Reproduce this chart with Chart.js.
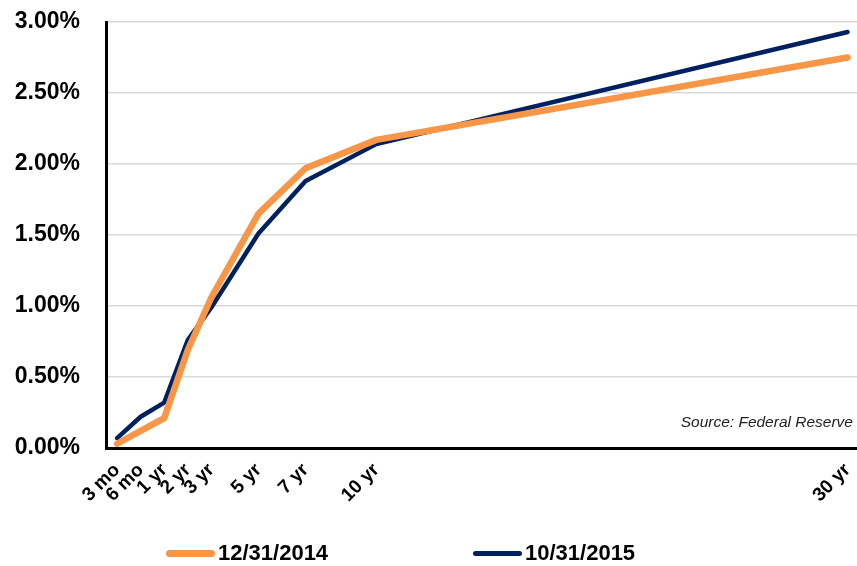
<!DOCTYPE html>
<html lang="en">
<head>
    <meta charset="UTF-8">
    <title>Treasury Yield Curve</title>
    <script src="https://cdn.jsdelivr.net/npm/chart.js"></script>
    <style>
        body { margin: 0; background: #fff; }
        .wrap { position: relative; width: 857px; height: 566px; font-family: "Liberation Sans", Arial, sans-serif; }
        .source {
            position: absolute; right: 4px; top: 413px;
            font-style: italic; font-size: 15.5px; color: #222;
        }
        .legend { position: absolute; top: 540px; left: 0; width: 857px; height: 26px; }
        .legend-item { position: absolute; top: 0; display: flex; align-items: center; height: 26px;
            font-weight: bold; font-size: 22px; color: #000; }
        .legend-line { width: 49px; border-radius: 4px; margin-right: 3px; }
    </style>
</head>
<body>

<div class="wrap">
    <canvas id="curveChart" width="857" height="566"></canvas>
    <div class="source">Source: Federal Reserve</div>
    <div class="legend">
        <div class="legend-item" style="left:166px">
            <span class="legend-line" style="height:7px;background:#F79646"></span>12/31/2014
        </div>
        <div class="legend-item" style="left:473px">
            <span class="legend-line" style="height:5px;background:#002060"></span>10/31/2015
        </div>
    </div>
</div>

<script>
    // maturities and where they sit on the x axis
    const maturityLabels = ['3 mo', '6 mo', '1 yr', '2 yr', '3 yr', '5 yr', '7 yr', '10 yr', '30 yr'];
    const maturityPos = [0, 1, 2, 3, 4, 6, 8, 11, 31];

    // yields in percent
    const yields2014 = [0.03, 0.12, 0.21, 0.69, 1.06, 1.65, 1.97, 2.17, 2.75];
    const yields2015 = [0.07, 0.22, 0.32, 0.76, 0.99, 1.51, 1.88, 2.14, 2.93];

    const yTicks = [0, 0.5, 1, 1.5, 2, 2.5, 3];

    function toPoints(values) {
        return values.map((v, i) => ({ x: maturityPos[i], y: v }));
    }

    const ctx = document.getElementById('curveChart').getContext('2d');
    new Chart(ctx, {
        type: 'line',
        data: {
            datasets: [{
                label: '12/31/2014',
                data: toPoints(yields2014),
                borderColor: '#F79646',
                borderWidth: 6.5,
                pointRadius: 0,
                borderCapStyle: 'round',
                borderJoinStyle: 'round',
                tension: 0
            }, {
                label: '10/31/2015',
                data: toPoints(yields2015),
                borderColor: '#002060',
                borderWidth: 4.5,
                pointRadius: 0,
                borderCapStyle: 'round',
                borderJoinStyle: 'round',
                tension: 0
            }]
        },
        options: {
            responsive: false,
            animation: false,
            layout: { padding: { top: 22, right: 0, bottom: 0, left: 0 } },
            plugins: {
                legend: { display: false },
                tooltip: { enabled: false }
            },
            scales: {
                x: {
                    type: 'linear',
                    min: -0.47,
                    max: 31.4,
                    grid: { display: false },
                    border: { color: '#000', width: 3 },
                    afterBuildTicks: scale => {
                        scale.ticks = maturityPos.map(v => ({ value: v }));
                    },
                    afterFit: scale => {
                        scale.height = 118;
                        scale.paddingLeft = 0;
                        scale.paddingRight = 0;
                    },
                    ticks: {
                        autoSkip: false,
                        maxRotation: 45,
                        minRotation: 45,
                        padding: 3,
                        color: '#000',
                        font: { family: 'Liberation Sans', size: 19, weight: 'bold' },
                        callback: value => {
                            const i = maturityPos.indexOf(value);
                            return i >= 0 ? maturityLabels[i] : '';
                        }
                    }
                },
                y: {
                    min: 0,
                    max: 3,
                    afterBuildTicks: scale => {
                        scale.ticks = yTicks.map(v => ({ value: v }));
                    },
                    afterFit: scale => {
                        scale.width = 106;
                        scale.paddingTop = 0;
                        scale.paddingBottom = 0;
                    },
                    grid: { color: '#d9d9d9', lineWidth: 1.5, drawTicks: false },
                    border: { color: '#000', width: 3 },
                    ticks: {
                        padding: 26,
                        color: '#000',
                        font: { family: 'Liberation Sans', size: 23, weight: 'bold' },
                        callback: value => value.toFixed(2) + '%'
                    }
                }
            }
        }
    });
</script>

</body>
</html>
